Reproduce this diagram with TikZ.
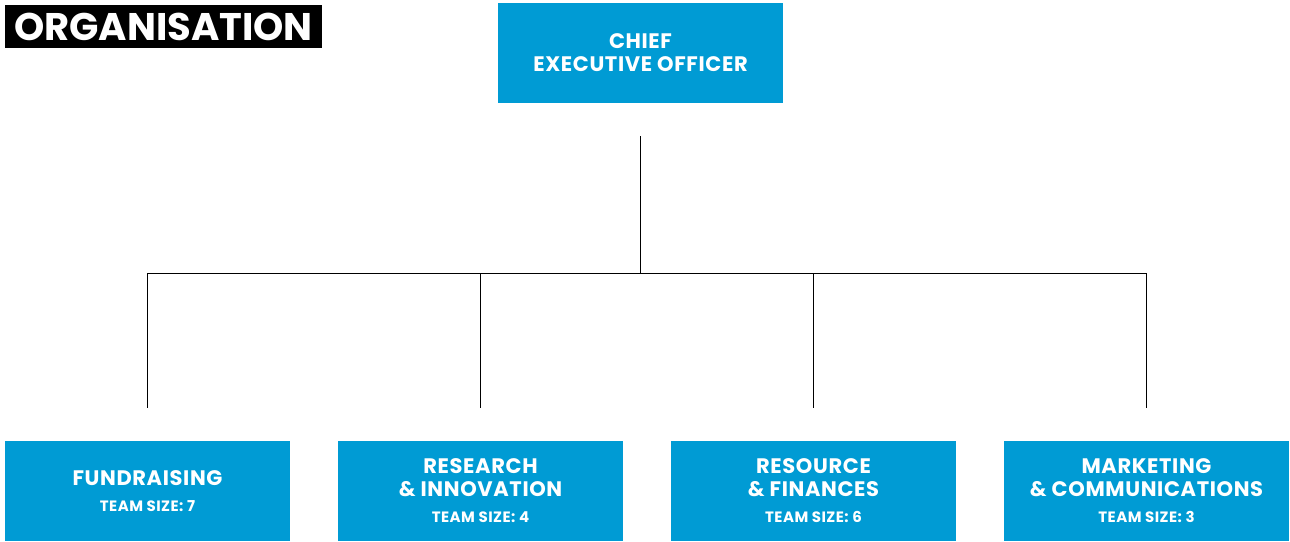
\documentclass[tikz,border=0pt]{standalone}
\usepackage{fontspec}
\usetikzlibrary{calc}
\setmainfont{Poppins}
\newfontfamily\boxfont{Poppins}[LetterSpace=3]
\definecolor{boxblue}{RGB}{0,155,212}
\tikzset{
  unitbox/.style={fill=boxblue, minimum width=285pt, minimum height=100pt, inner sep=0pt, text=white, align=center, font=\boxfont\bfseries\fontsize{21}{23}\selectfont},
  conn/.style={draw=black, line width=1pt}
}
\newcommand{\teamsize}[1]{\\[3pt]{\fontsize{15}{16}\selectfont TEAM SIZE: #1}}
\begin{document}
\begin{tikzpicture}[x=1pt,y=-1pt]
\useasboundingbox (0,0) rectangle (1290,541);
\node[fill=black, text=white, minimum width=317pt, minimum height=43pt, inner sep=0pt, font=\bfseries\fontsize{38.5}{40}\selectfont] (title) at (163.5,26.5) {ORGANISATION};
\node[unitbox] (ceo) at (640.5,53) {CHIEF\\EXECUTIVE OFFICER};
\node[unitbox] (fund) at (147.5,491) {FUNDRAISING\teamsize{7}};
\node[unitbox] (res) at (480.5,491) {RESEARCH\\\& INNOVATION\teamsize{4}};
\node[unitbox] (fin) at (813.5,491) {RESOURCE\\\& FINANCES\teamsize{6}};
\node[unitbox] (mkt) at (1146.5,491) {MARKETING\\\& COMMUNICATIONS\teamsize{3}};
\coordinate (ceodown) at ($(ceo.south)+(0,33)$);
\coordinate (bus) at (640.5,273);
\foreach \n in {fund,res,fin,mkt}{
  \coordinate (\n-up) at ($(\n.north)+(0,-33)$);
  \coordinate (\n-bus) at (\n.north |- bus);
}
\draw[conn] (ceodown) -- (bus);
\draw[conn] (fund-bus) -- (mkt-bus);
\foreach \n in {fund,res,fin,mkt}{
  \draw[conn] (\n-bus) -- (\n-up);
}
\end{tikzpicture}
\end{document}
